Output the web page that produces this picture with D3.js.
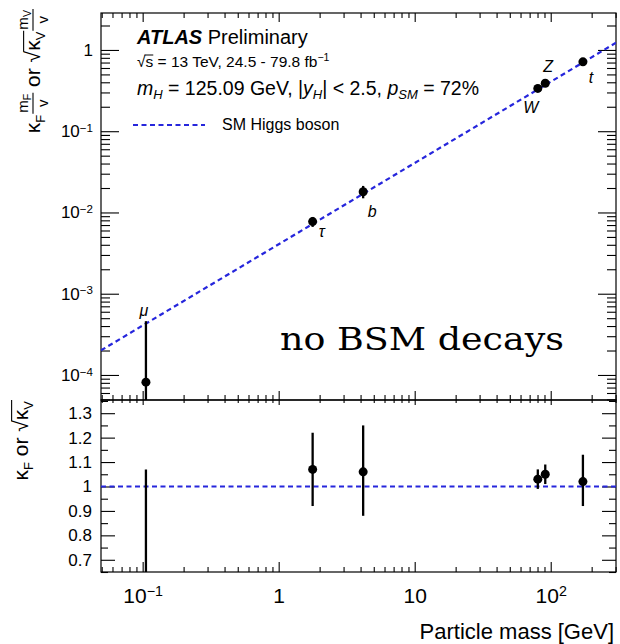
<!DOCTYPE html>
<html>
<head>
<meta charset="utf-8">
<script src="https://cdn.jsdelivr.net/npm/d3@7"></script>
<style>
  body { margin: 0; background: #fff; }
  svg text { font-family: "Liberation Sans", Arial, Helvetica, sans-serif; fill: #000; white-space: pre; }
</style>
</head>
<body>
<svg id="chart" width="620" height="644"></svg>
<script>
// values
const particles = ["μ", "τ", "b", "W", "Z", "t"];
const masses = [0.1057, 1.777, 4.18, 80.38, 91.19, 172.5];   // GeV
const kappaVals = [0.19, 1.07, 1.06, 1.03, 1.05, 1.02];       // kappa_F or sqrt(kappa_V)
const errUp = [0.88, 0.15, 0.19, 0.04, 0.04, 0.11];
const errDown = [0.19, 0.15, 0.18, 0.04, 0.04, 0.10];
const vev = 246.22;
const xTickVals = [0.1, 1, 10, 100];
const topTickVals = [1e-4, 1e-3, 1e-2, 1e-1, 1];
const ratioTickVals = [0.7, 0.8, 0.9, 1, 1.1, 1.2, 1.3];

const svg = d3.select("#chart");
const L = 101, R = 616, T = 13, M = 400, B = 572;
const blue = "#2626dc";

let x = d3.scaleLog().domain([0.0494, 302]).range([L, R]);
let yTop = d3.scaleLog().domain([4.92e-5, 2.85]).range([M, T]);
let yBot = d3.scaleLinear().domain([0.65, 1.354]).range([B, M]);

// minor tick positions for log axes
function logMinors(dom) {
  let out = [];
  for (let e = -6; e <= 3; e++)
    for (let k = 2; k <= 9; k++) {
      let v = k * Math.pow(10, e);
      if (v > dom[0] && v < dom[1]) out.push(v);
    }
  return out;
}
let xMinor = logMinors(x.domain());
let yMinor = logMinors(yTop.domain());
let ratioMinor = [0.65, 0.75, 0.85, 0.95, 1.05, 1.15, 1.25, 1.35];

// tick marks only (pointing inside the frame)
function tickMarks(gen, vals, len, tx, ty) {
  let g = svg.append("g").attr("transform", "translate(" + tx + "," + ty + ")")
    .call(gen.tickValues(vals).tickSizeInner(-len).tickSizeOuter(0).tickFormat(""));
  g.select(".domain").remove();
  g.selectAll("line").attr("stroke", "#000").attr("stroke-width", 1.1);
  return g;
}

function powText(sel) {
  sel.each(function(d) {
    let t = d3.select(this);
    let e = Math.round(Math.log10(d));
    t.text(null);
    if (e === 0) t.text("1");
    else if (e === 1) t.text("10");
    else {
      t.append("tspan").text("10");
      t.append("tspan").attr("dy", "-0.45em").attr("font-size", "0.68em")
        .text(e < 0 ? "\u2212" + (-e) : String(e));
    }
  });
}

// ---- top panel ticks ----
tickMarks(d3.axisLeft(yTop), topTickVals, 18, L, 0);
tickMarks(d3.axisLeft(yTop), yMinor, 9, L, 0);
tickMarks(d3.axisRight(yTop), topTickVals, 18, R, 0);
tickMarks(d3.axisRight(yTop), yMinor, 9, R, 0);
tickMarks(d3.axisTop(x), xTickVals, 9, 0, T);
tickMarks(d3.axisTop(x), xMinor, 5, 0, T);
tickMarks(d3.axisBottom(x), xTickVals, 9, 0, M);
tickMarks(d3.axisBottom(x), xMinor, 5, 0, M);

let topLab = svg.append("g").attr("transform", "translate(" + L + ",0)")
  .call(d3.axisLeft(yTop).tickValues(topTickVals).tickSize(0).tickPadding(8));
topLab.select(".domain").remove();
topLab.attr("font-size", 17).attr("font-family", null);
topLab.selectAll(".tick text").attr("fill", "#000").call(powText);

// ---- bottom panel ticks ----
tickMarks(d3.axisLeft(yBot), ratioTickVals, 14, L, 0);
tickMarks(d3.axisLeft(yBot), ratioMinor, 7, L, 0);
tickMarks(d3.axisRight(yBot), ratioTickVals, 14, R, 0);
tickMarks(d3.axisRight(yBot), ratioMinor, 7, R, 0);
tickMarks(d3.axisTop(x), xTickVals, 5, 0, M);
tickMarks(d3.axisTop(x), xMinor, 3, 0, M);
tickMarks(d3.axisBottom(x), xTickVals, 10, 0, B);
tickMarks(d3.axisBottom(x), xMinor, 5, 0, B);

let botLab = svg.append("g").attr("transform", "translate(" + L + ",0)")
  .call(d3.axisLeft(yBot).tickValues(ratioTickVals).tickSize(0).tickPadding(9)
    .tickFormat(d => d3.format("")(+d.toFixed(1))));
botLab.select(".domain").remove();
botLab.attr("font-size", 17).attr("font-family", null);
botLab.selectAll(".tick text").attr("fill", "#000");

let xLab = svg.append("g").attr("transform", "translate(0," + B + ")")
  .call(d3.axisBottom(x).tickValues(xTickVals).tickSize(0).tickPadding(16));
xLab.select(".domain").remove();
xLab.attr("font-size", 21).attr("font-family", null);
xLab.selectAll(".tick text").attr("fill", "#000").call(powText);

// ---- frames ----
svg.append("rect").attr("x", L).attr("y", T).attr("width", R - L).attr("height", M - T)
  .attr("fill", "none").attr("stroke", "#000").attr("stroke-width", 1.2);
svg.append("rect").attr("x", L).attr("y", M).attr("width", R - L).attr("height", B - M)
  .attr("fill", "none").attr("stroke", "#000").attr("stroke-width", 1.2);

let defs = svg.append("defs");
defs.append("clipPath").attr("id", "clipTop").append("rect")
  .attr("x", L).attr("y", T).attr("width", R - L).attr("height", M - T);
defs.append("clipPath").attr("id", "clipBot").append("rect")
  .attr("x", L).attr("y", M).attr("width", R - L).attr("height", B - M);

let topG = svg.append("g").attr("clip-path", "url(#clipTop)");
let botG = svg.append("g").attr("clip-path", "url(#clipBot)");

// SM expectation
let xd = x.domain();
topG.append("line")
  .attr("x1", x(xd[0])).attr("y1", yTop(xd[0] / vev))
  .attr("x2", x(xd[1])).attr("y2", yTop(xd[1] / vev))
  .attr("stroke", blue).attr("stroke-width", 2.2).attr("stroke-dasharray", "5,3.5");
botG.append("line")
  .attr("x1", L).attr("x2", R).attr("y1", yBot(1)).attr("y2", yBot(1))
  .attr("stroke", blue).attr("stroke-width", 2.2).attr("stroke-dasharray", "5,3.5");

let pts = particles.map((p, i) => ({
  name: p, m: masses[i], k: kappaVals[i], hi: kappaVals[i] + errUp[i], lo: kappaVals[i] - errDown[i]
}));

// top panel: kappa * m / v
let yLow = yTop.domain()[0] * 0.5;
topG.selectAll(".errTop").data(pts).enter().append("line")
  .attr("x1", d => x(d.m)).attr("x2", d => x(d.m))
  .attr("y1", d => yTop(d.hi * d.m / vev))
  .attr("y2", d => yTop(d.lo > 0 ? d.lo * d.m / vev : yLow))
  .attr("stroke", "#000").attr("stroke-width", 2.3);
topG.selectAll(".dotTop").data(pts).enter().append("circle")
  .attr("cx", d => x(d.m)).attr("cy", d => yTop(d.k * d.m / vev)).attr("r", 4.5).attr("fill", "#000");

// bottom panel: ratio
botG.selectAll(".errBot").data(pts).enter().append("line")
  .attr("x1", d => x(d.m)).attr("x2", d => x(d.m))
  .attr("y1", d => yBot(d.hi)).attr("y2", d => yBot(Math.max(d.lo, 0)))
  .attr("stroke", "#000").attr("stroke-width", 2.3);
botG.selectAll(".dotBot").data(pts).enter().append("circle")
  .attr("cx", d => x(d.m)).attr("cy", d => yBot(d.k)).attr("r", 4.5).attr("fill", "#000");

// particle names, offsets from the marker
const labelOffsets = {"μ": [-2, -66], "τ": [9, 15], "b": [9, 25], "W": [-7, 25], "Z": [3, -11], "t": [8, 21]};
svg.selectAll(".pname").data(pts).enter().append("text")
  .attr("x", d => x(d.m) + labelOffsets[d.name][0])
  .attr("y", d => yTop(d.k * d.m / vev) + labelOffsets[d.name][1])
  .attr("text-anchor", "middle").attr("font-size", 16).attr("font-style", "italic")
  .text(d => d.name);

// ---- texts ----
let t1 = svg.append("text").attr("x", 137).attr("y", 44).attr("font-size", 20);
t1.append("tspan").attr("font-weight", "bold").attr("font-style", "italic").text("ATLAS");
t1.append("tspan").text(" Preliminary");

let t2 = svg.append("text").attr("x", 137).attr("y", 67).attr("font-size", 15.5);
t2.append("tspan").text("\u221As = 13 TeV, 24.5 - 79.8 fb");
t2.append("tspan").attr("dy", -6).attr("font-size", 10.5).text("\u22121");
let c0 = t2.node().getExtentOfChar(0), c1 = t2.node().getExtentOfChar(1);
svg.append("line").attr("x1", c0.x + c0.width - 1).attr("x2", c1.x + c1.width)
  .attr("y1", c0.y + 2).attr("y2", c0.y + 2).attr("stroke", "#000").attr("stroke-width", 1);

let t3 = svg.append("text").attr("x", 137).attr("y", 95).attr("font-size", 19.5);
t3.append("tspan").attr("font-style", "italic").text("m");
t3.append("tspan").attr("font-style", "italic").attr("font-size", 13).attr("dy", 4).text("H");
t3.append("tspan").attr("dy", -4).text(" = 125.09 GeV, |");
t3.append("tspan").attr("font-style", "italic").text("y");
t3.append("tspan").attr("font-style", "italic").attr("font-size", 13).attr("dy", 4).text("H");
t3.append("tspan").attr("dy", -4).text("| < 2.5, ");
t3.append("tspan").attr("font-style", "italic").text("p");
t3.append("tspan").attr("font-style", "italic").attr("font-size", 13).attr("dy", 4).text("SM");
t3.append("tspan").attr("dy", -4).text(" = 72%");

// legend
svg.append("line").attr("x1", 133).attr("x2", 205).attr("y1", 125).attr("y2", 125)
  .attr("stroke", blue).attr("stroke-width", 2.2).attr("stroke-dasharray", "5,3.5");
svg.append("text").attr("x", 222).attr("y", 130).attr("font-size", 16).text("SM Higgs boson");

svg.append("text").attr("x", 280).attr("y", 350)
  .style("font-family", "'DejaVu Serif', 'Liberation Serif', serif")
  .attr("font-size", 32).attr("textLength", 284).attr("lengthAdjust", "spacingAndGlyphs")
  .text("no BSM decays");

svg.append("text").attr("x", 614).attr("y", 639).attr("text-anchor", "end")
  .attr("font-size", 22).text("Particle mass [GeV]");

// ---- rotated y titles built piece by piece ----
function run(g, cx, str, size, dy) {
  let t = g.append("text").attr("x", cx).attr("y", dy || 0).attr("font-size", size).text(str);
  return cx + t.node().getComputedTextLength();
}
function frac(g, cx, num, sub, den, f) {
  let s = f * 0.72;
  let n = g.append("text").attr("y", -12).attr("font-size", s);
  n.append("tspan").text(num);
  n.append("tspan").attr("font-size", s * 0.7).attr("dy", 3).text(sub);
  let d = g.append("text").attr("y", 8).attr("font-size", s).text(den);
  let wn = n.node().getComputedTextLength(), wd = d.node().getComputedTextLength();
  let w = Math.max(wn, wd) + 2;
  n.attr("x", cx + (w - wn) / 2);
  d.attr("x", cx + (w - wd) / 2);
  g.append("line").attr("x1", cx).attr("x2", cx + w).attr("y1", -7).attr("y2", -7)
    .attr("stroke", "#000").attr("stroke-width", 1.1);
  return cx + w;
}
function sqrtKappa(g, cx, f) {
  let c = run(g, cx, "\u221A", f);
  let start = c;
  c = run(g, c, "\u03BA", f);
  c = run(g, c, "V", f * 0.62, 5);
  g.append("line").attr("x1", start - 1).attr("x2", c + 1).attr("y1", -f * 0.78).attr("y2", -f * 0.78)
    .attr("stroke", "#000").attr("stroke-width", 1.1);
  return c;
}
function placeRotated(g, bx, yEnd, width) {
  g.attr("transform", "translate(" + bx + "," + (yEnd + width) + ") rotate(-90)");
}

let f = 21;
let gTop = svg.append("g");
let cx = run(gTop, 0, "\u03BA", f);
cx = run(gTop, cx, "F", f * 0.62, 5);
cx = frac(gTop, cx + 1, "m", "F", "v", f);
cx = run(gTop, cx, " or ", f);
cx = sqrtKappa(gTop, cx, f);
cx = frac(gTop, cx + 1, "m", "V", "v", f);
placeRotated(gTop, 40, 9, cx);

let gBot = svg.append("g");
cx = run(gBot, 0, "\u03BA", f);
cx = run(gBot, cx, "F", f * 0.62, 5);
cx = run(gBot, cx, " or ", f);
cx = sqrtKappa(gBot, cx, f);
placeRotated(gBot, 28, 401, cx);
</script>
</body>
</html>
